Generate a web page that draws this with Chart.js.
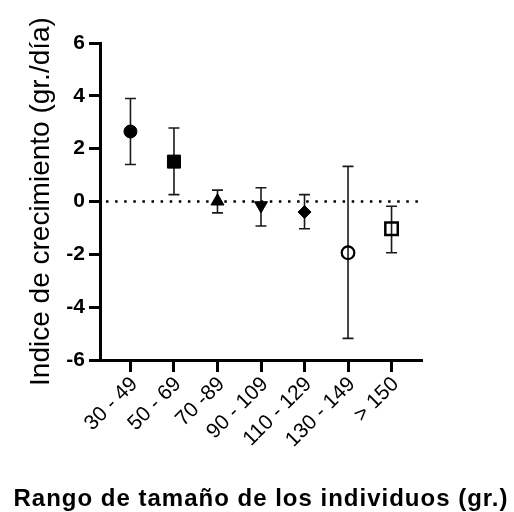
<!DOCTYPE html>
<html>
<head>
<meta charset="utf-8">
<script src="https://cdn.jsdelivr.net/npm/chart.js@4/dist/chart.umd.min.js"></script>
<style>
  html, body { margin: 0; padding: 0; background: #fff; }
  canvas { display: block; }
</style>
</head>
<body>
<canvas id="chart" width="514" height="512"></canvas>
<script>
const categories = ["30 - 49", "50 - 69", "70 -89", "90 - 109", "110 - 129", "130 - 149", "> 150"];
const means = [2.65, 1.51, 0.01, -0.15, -0.4, -1.94, -1.03];
const upper = [3.9, 2.78, 0.43, 0.52, 0.26, 1.33, -0.18];
const lower = [1.4, 0.26, -0.43, -0.93, -1.03, -5.18, -1.94];
const yTickValues = [-6, -4, -2, 0, 2, 4, 6];
const xTitle = "Rango de tamaño de los individuos (gr.)";
const yTitle = "Indice de crecimiento (gr./día)";

const markerStyles = ["circle", "rect", "triangle", "triangle", "rectRot", "circle", "rect"];
const markerRotation = [0, 0, 0, 180, 0, 0, 0];
const markerRadius = [6.5, 9.2, 7.5, 7.5, 6.5, 6.3, 8.8];
const markerFill = ["#000", "#000", "#000", "#000", "#000", "rgba(0,0,0,0)", "rgba(0,0,0,0)"];
const markerBorder = [1, 1, 1, 1, 1, 2.2, 2.5];

const fontFamily = "'Liberation Sans', Arial, sans-serif";
const black = "#000";

const errorBars = {
  id: "errorBars",
  beforeDatasetsDraw(chart) {
    const { ctx, chartArea, scales } = chart;
    const x = scales.x;
    const y = scales.y;
    ctx.save();

    const y0 = y.getPixelForValue(0);
    ctx.strokeStyle = black;
    ctx.lineWidth = 2.5;
    ctx.setLineDash([2.5, 6.6]);
    ctx.beginPath();
    ctx.moveTo(chartArea.left + 6, y0);
    ctx.lineTo(chartArea.right, y0);
    ctx.stroke();
    ctx.setLineDash([]);

    ctx.strokeStyle = "#1a1a1a";
    ctx.lineWidth = 1.6;
    means.forEach((m, i) => {
      const px = x.getPixelForValue(i);
      const top = y.getPixelForValue(upper[i]);
      const bottom = y.getPixelForValue(lower[i]);
      ctx.beginPath();
      ctx.moveTo(px, top);
      ctx.lineTo(px, bottom);
      ctx.moveTo(px - 5.5, top);
      ctx.lineTo(px + 5.5, top);
      ctx.moveTo(px - 5.5, bottom);
      ctx.lineTo(px + 5.5, bottom);
      ctx.stroke();
    });
    ctx.restore();
  },
  // the built-in axis title gets squeezed to the axis width, so draw it here
  afterDraw(chart) {
    const { ctx, chartArea } = chart;
    ctx.save();
    ctx.fillStyle = black;
    ctx.font = "bold 24px " + fontFamily;
    if ("letterSpacing" in ctx) ctx.letterSpacing = "1px";
    ctx.textAlign = "center";
    ctx.textBaseline = "alphabetic";
    ctx.fillText(xTitle, (chartArea.left + chartArea.right) / 2, 506);
    ctx.restore();
  },
};

const ctx = document.getElementById("chart").getContext("2d");

new Chart(ctx, {
  type: "scatter",
  data: {
    datasets: [
      {
        label: "",
        data: means.map((m, i) => ({ x: i, y: m })),
        pointStyle: markerStyles,
        pointRotation: markerRotation,
        pointRadius: markerRadius,
        pointBackgroundColor: markerFill,
        pointBorderColor: black,
        pointBorderWidth: markerBorder,
        showLine: false,
        clip: false,
      },
    ],
  },
  options: {
    responsive: false,
    animation: false,
    events: [],
    layout: {
      padding: { top: 43, right: 92, bottom: 0, left: 0 },
    },
    plugins: {
      legend: { display: false },
      tooltip: { enabled: false },
    },
    scales: {
      x: {
        type: "linear",
        min: -0.7,
        max: 6.7,
        afterBuildTicks: (scale) => {
          scale.ticks = categories.map((c, i) => ({ value: i }));
        },
        afterFit: (scale) => {
          scale.height = 152;
        },
        ticks: {
          autoSkip: false,
          minRotation: 45,
          maxRotation: 45,
          padding: 0,
          labelOffset: 4,
          color: black,
          font: { family: fontFamily, size: 21 },
          callback: (value) => categories[value],
        },
        grid: {
          drawOnChartArea: false,
          color: black,
          tickColor: black,
          tickLength: 12,
          tickWidth: 3,
        },
        border: { display: true, color: black, width: 3 },
      },
      y: {
        min: -6,
        max: 6,
        afterBuildTicks: (scale) => {
          scale.ticks = yTickValues.map((v) => ({ value: v }));
        },
        afterFit: (scale) => {
          scale.width = 100;
        },
        ticks: {
          padding: 4,
          color: black,
          font: { family: fontFamily, size: 21, weight: "bold" },
        },
        grid: {
          drawOnChartArea: false,
          color: black,
          tickColor: black,
          tickLength: 11,
          tickWidth: 3,
        },
        border: { display: true, color: black, width: 3 },
        title: {
          display: true,
          text: yTitle,
          color: black,
          font: { family: fontFamily, size: 28 },
          padding: { top: 24, bottom: 0 },
        },
      },
    },
  },
  plugins: [errorBars],
});
</script>
</body>
</html>
